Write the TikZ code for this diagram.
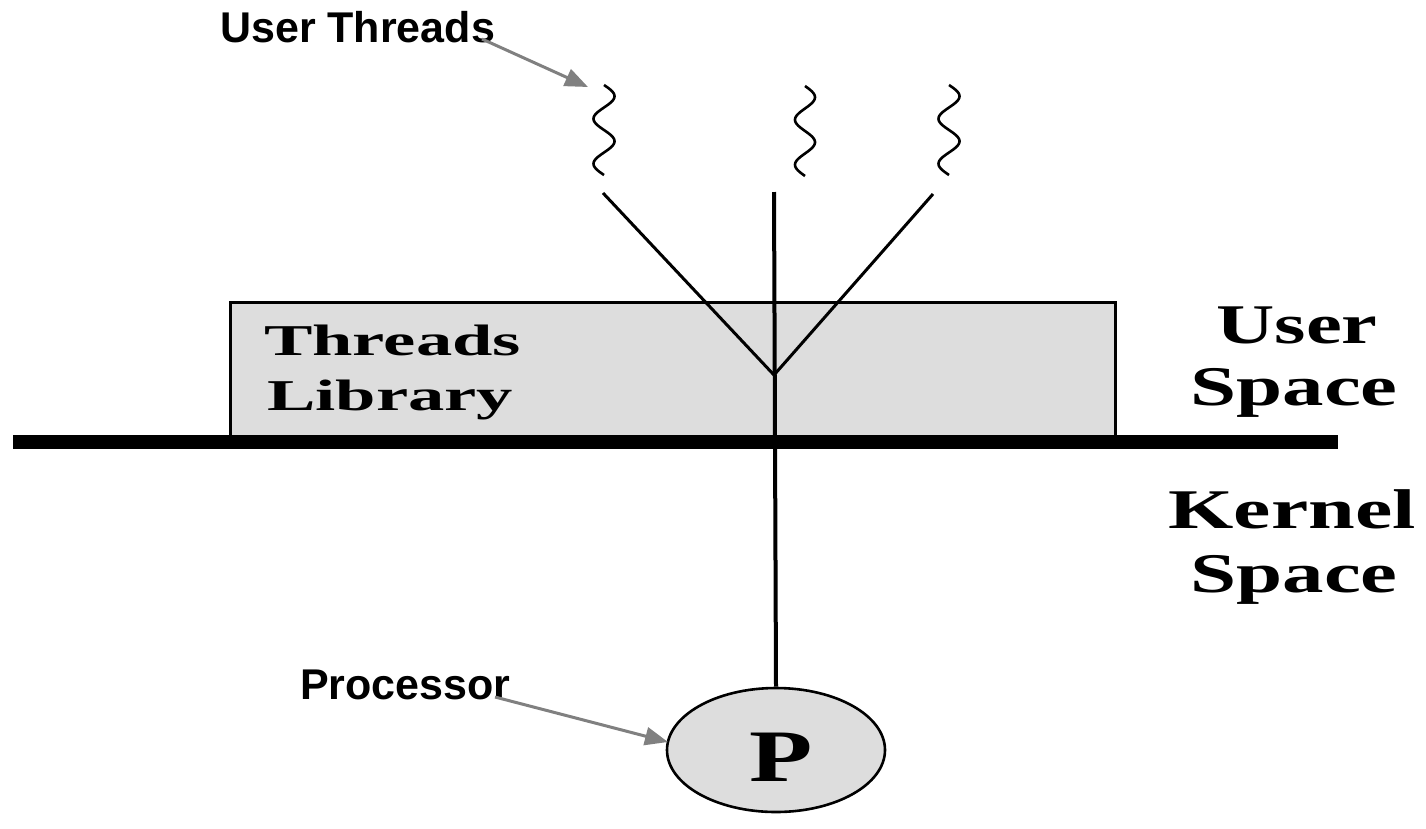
\documentclass[tikz,border=0pt]{standalone}
\usepackage{fontspec}
\setmainfont{Liberation Serif}
\newfontfamily\sansfont{Liberation Sans}
\usepackage{graphicx}
\usetikzlibrary{arrows.meta,shapes.geometric}

\definecolor{boxfill}{RGB}{221,221,221}
\definecolor{pointer}{RGB}{128,128,128}

% serif labels are set bold and stretched sideways
\newcommand{\wide}[3]{\scalebox{#1}[1]{\fontsize{#2}{#2}\selectfont\bfseries #3}}

\tikzset{
  calllabel/.style={font=\sansfont\bfseries\fontsize{43}{43}\selectfont, inner sep=0pt},
  pointerarrow/.style={draw=pointer, line width=3pt,
    -{Triangle[length=23pt,width=18pt]}, shorten >=0pt},
  link/.style={line width=3pt, line cap=butt},
  squiggle/.style={line width=2.6pt},
  spacelabel/.style={anchor=base, inner sep=0pt},
}

\begin{document}
\begin{tikzpicture}[x=1pt,y=-1pt]
\useasboundingbox (0,0) rectangle (1426,828);

% threads library box (its lower edge is hidden by the boundary line)
\node[draw, line width=3pt, fill=boxfill, minimum width=885pt, minimum height=136pt,
      inner sep=0pt] (lib) at (672.5,370) {};
\node[anchor=base west, inner sep=0pt] (libtxt1) at (264,355) {\wide{1.65}{44}{Threads}};
\node[anchor=base west, inner sep=0pt] (libtxt2) at (267,410) {\wide{1.65}{44}{Library}};

% user / kernel boundary
\coordinate (bl) at (13,442);
\coordinate (br) at (1338,442);
\draw[line width=14pt] (bl) -- (br);

% user threads
\draw[squiggle] plot[domain=0:90, samples=80, smooth] ({604+10.5*sin(\x*8)}, {85+\x});
\draw[squiggle] plot[domain=0:90, samples=80, smooth] ({805+10*sin(\x*8)}, {86+\x});
\draw[squiggle] plot[domain=0:90, samples=80, smooth] ({949+10.5*sin(\x*8)}, {85+\x});

% processor
\node[draw, ellipse, line width=2.6pt, fill=boxfill, minimum width=218pt,
      minimum height=124pt, inner sep=0pt] (proc) at (776,750) {};
\node[anchor=base, inner sep=0pt] (ptxt) at (781,781) {\wide{1.4}{74}{P}};

% many-to-one mapping onto the single kernel thread
\coordinate (hub) at (774,375);
\coordinate (t1) at (603,193);
\coordinate (t3) at (933,194);
\coordinate (ktop) at (774,192);
\draw[link] (t1) -- (hub) -- (t3);
\draw[line width=4pt] (ktop) -- (proc.north);

% space labels
\node[spacelabel] (us1) at (1297,343) {\wide{1.44}{56}{User}};
\node[spacelabel] (us2) at (1294,405) {\wide{1.48}{56}{Space}};
\node[spacelabel] (ks1) at (1292,528) {\wide{1.5}{56}{Kernel}};
\node[spacelabel] (ks2) at (1294,592) {\wide{1.48}{56}{Space}};

% callouts
\node[calllabel, anchor=base west] (ut) at (220,42) {User Threads};
\node[calllabel, anchor=base west] (pr) at (300,699) {Processor};
\coordinate (utfrom) at (482,39);
\coordinate (utto) at (588,87);
\coordinate (prfrom) at (495,697);
\coordinate (prto) at (668,742);
\draw[pointerarrow] (utfrom) -- (utto);
\draw[pointerarrow] (prfrom) -- (prto);
\end{tikzpicture}
\end{document}
